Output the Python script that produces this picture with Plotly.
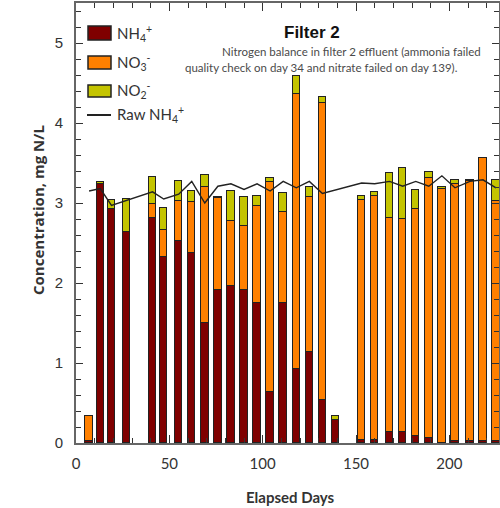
import plotly.graph_objects as go

# ---- data ----
days = [7, 13, 19, 27, 41, 47, 55, 62, 69, 76, 83, 90, 97, 104, 111, 118, 125, 132, 139,
        153, 160, 168, 175, 182, 189, 196, 203, 211, 218, 225]
nh4 = [0.03, 3.24, 2.93, 2.64, 2.81, 2.32, 2.52, 2.37, 1.50, 1.91, 1.96, 1.91, 1.75, 0.64, 1.75,
       0.92, 1.14, 0.54, 0.29, 0.04, 0.04, 0.14, 0.14, 0.09, 0.06, 0.00, 0.02, 0.03, 0.03, 0.03]
no3 = [0.31, 0.00, 0.00, 0.00, 0.18, 0.34, 0.50, 0.64, 1.70, 1.15, 0.81, 0.80, 1.21, 2.62, 1.14,
       3.44, 1.94, 3.71, 0.00, 3.00, 3.05, 2.67, 2.66, 2.84, 3.25, 3.18, 3.22, 3.24, 3.53, 2.99]
no2 = [0.00, 0.02, 0.11, 0.41, 0.33, 0.28, 0.25, 0.14, 0.15, 0.02, 0.38, 0.37, 0.13, 0.05, 0.24,
       0.23, 0.12, 0.07, 0.05, 0.05, 0.05, 0.56, 0.64, 0.23, 0.08, 0.02, 0.05, 0.02, 0.00, 0.27]
raw_days = [7, 13, 19, 27, 41, 47, 55, 62, 69, 76, 83, 90, 97, 104, 111, 118, 125, 132,
            153, 160, 168, 175, 182, 189, 196, 203, 211, 218, 225]
raw_nh4 = [3.15, 3.18, 2.97, 3.03, 3.14, 3.05, 3.11, 3.27, 3.00, 3.21, 3.24, 3.17, 3.24, 3.15,
           3.27, 3.19, 3.27, 3.12, 3.25, 3.24, 3.27, 3.21, 3.27, 3.21, 3.34, 3.19, 3.27, 3.29, 3.19]

series_names = ["NH<sub>4</sub><sup>+</sup>", "NO<sub>3</sub><sup>-</sup>", "NO<sub>2</sub><sup>-</sup>"]
raw_name = "Raw NH<sub>4</sub><sup>+</sup>"
colors = ["#7f0000", "#ff8000", "#c4c400"]

W, H = 500, 508
ML, MR, MT, MB = 76, 1, 3, 65
PW, PH = W - ML - MR, H - MT - MB


def px(x):
    return (x - ML) / PW


def py(y):
    return (H - MB - y) / PH


fig = go.Figure()
for vals, name, col in zip([nh4, no3, no2], series_names, colors):
    fig.add_trace(go.Bar(x=days, y=vals, name=name, width=4.0,
                         marker=dict(color=col, line=dict(color="#222222", width=1)),
                         showlegend=False))
fig.add_trace(go.Scatter(x=raw_days, y=raw_nh4, mode="lines", name=raw_name,
                         line=dict(color="#222222", width=1.4), showlegend=False))

axis_common = dict(showline=True, linecolor="#666666", linewidth=2, mirror="allticks",
                   ticks="inside", tickcolor="#333333", showgrid=False, zeroline=False)
fig.update_xaxes(range=[0, 226.6], dtick=50, tick0=0, ticklen=8,
                 minor=dict(dtick=10, ticks="inside", ticklen=5, tickcolor="#333333"),
                 tickfont=dict(family="Lato", size=15, color="#333333"),
                 ticklabelstandoff=6, **axis_common)
fig.update_yaxes(range=[0, 5.5], dtick=1, tick0=0, ticklen=7,
                 minor=dict(dtick=0.2, ticks="inside", ticklen=5, tickcolor="#333333"),
                 tickfont=dict(family="Liberation Sans, Arial", size=15, color="#333333"),
                 ticklabelstandoff=8, **axis_common)

# custom legend
shapes = []
annotations = []
box_rows = [(26, 40), (56, 69), (85, 97)]
for (y0, y1), name, col in zip(box_rows, series_names, colors):
    shapes.append(dict(type="rect", xref="paper", yref="paper", x0=px(88), x1=px(111),
                       y0=py(y1), y1=py(y0), fillcolor=col,
                       line=dict(color="#222222", width=1.5)))
    annotations.append(dict(xref="paper", yref="paper", x=px(115), y=py((y0 + y1) / 2),
                            text=name, showarrow=False, xanchor="left", yanchor="middle",
                            font=dict(family="Lato", size=15, color="#333333")))
shapes.append(dict(type="line", xref="paper", yref="paper", x0=px(87), x1=px(111),
                   y0=py(115), y1=py(115), line=dict(color="#222222", width=2)))
annotations.append(dict(xref="paper", yref="paper", x=px(115), y=py(115), text=raw_name,
                        showarrow=False, xanchor="left", yanchor="middle",
                        font=dict(family="Lato", size=15, color="#333333")))

# titles / notes
annotations += [
    dict(xref="paper", yref="paper", x=px(312), y=py(32), text="<b>Filter 2</b>",
         showarrow=False, xanchor="center", yanchor="middle",
         font=dict(family="Liberation Sans, Arial", size=17, color="#111111")),
    dict(xref="paper", yref="paper", x=px(220), y=py(51),
         text="Nitrogen balance in filter 2 effluent (ammonia failed",
         showarrow=False, xanchor="left", yanchor="middle",
         font=dict(family="Lato", size=11.5, color="#4a4a4a")),
    dict(xref="paper", yref="paper", x=px(183), y=py(68),
         text="quality check on day 34 and nitrate failed on day 139).",
         showarrow=False, xanchor="left", yanchor="middle",
         font=dict(family="Lato", size=11.5, color="#4a4a4a")),
    dict(xref="paper", yref="paper", x=px(290), y=py(497), text="<b>Elapsed Days</b>",
         showarrow=False, xanchor="center", yanchor="middle",
         font=dict(family="Lato", size=15, color="#333333")),
    dict(xref="paper", yref="paper", x=px(38), y=py(210), text="<b>Concentration, mg N/L</b>",
         showarrow=False, xanchor="center", yanchor="middle", textangle=-90,
         font=dict(family="Open Sans", size=15, color="#333333")),
]

fig.update_layout(width=W, height=H, barmode="stack", bargap=0,
                  margin=dict(l=ML, r=MR, t=MT, b=MB, autoexpand=False),
                  plot_bgcolor="white", paper_bgcolor="white",
                  shapes=shapes, annotations=annotations, showlegend=False)

fig.write_html("out.html")
